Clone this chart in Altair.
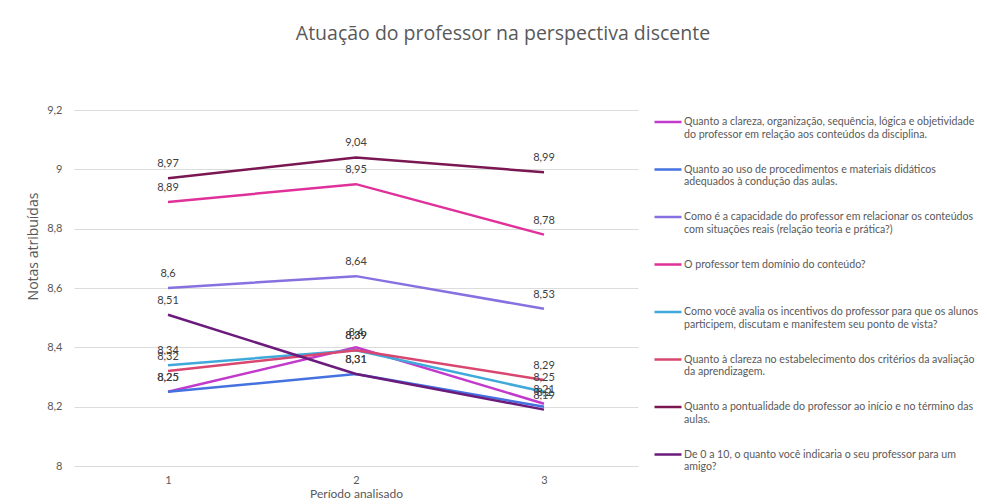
import altair as alt
import pandas as pd

periods = [1, 2, 3]
series_names = [
    "Quanto a clareza, organização, sequência, lógica e objetividade\ndo professor em relação aos conteúdos da disciplina.",
    "Quanto ao uso de procedimentos e materiais didáticos\nadequados à condução das aulas.",
    "Como é a capacidade do professor em relacionar os conteúdos\ncom situações reais (relação teoria e prática?)",
    "O professor tem domínio do conteúdo?\n ",
    "Como você avalia os incentivos do professor para que os alunos\nparticipem, discutam e manifestem seu ponto de vista?",
    "Quanto à clareza no estabelecimento dos critérios da avaliação\nda aprendizagem.",
    "Quanto a pontualidade do professor ao início e no término das\naulas.",
    "De 0 a 10, o quanto você indicaria o seu professor para um\namigo?",
]
s_clareza = [8.25, 8.40, 8.21]
s_procedimentos = [8.25, 8.31, 8.20]
s_capacidade = [8.60, 8.64, 8.53]
s_dominio = [8.89, 8.95, 8.78]
s_incentivos = [8.34, 8.39, 8.25]
s_criterios = [8.32, 8.39, 8.29]
s_pontualidade = [8.97, 9.04, 8.99]
s_indicaria = [8.51, 8.31, 8.19]
colors = ["#C23ACB", "#4472E0", "#8770E0", "#E0309A", "#3FA9DA", "#D9466F", "#7A1652", "#6B1B7C"]

all_series = [s_clareza, s_procedimentos, s_capacidade, s_dominio,
              s_incentivos, s_criterios, s_pontualidade, s_indicaria]
rows = []
for name, vals in zip(series_names, all_series):
    for p, v in zip(periods, vals):
        rows.append({"serie": name, "periodo": p, "nota": v})
df = pd.DataFrame(rows)

x = alt.X("periodo:O", scale=alt.Scale(type="point", padding=0.5),
          axis=alt.Axis(title="Período analisado", labelAngle=0, domain=False, ticks=False,
                        grid=False, labelPadding=8, labelFontSize=11, labelColor="#595959",
                        titleFontSize=12, titleColor="#595959", titlePadding=3,
                        titleFont="Lato", titleFontWeight="normal", labelFont="Lato"))
y = alt.Y("nota:Q", scale=alt.Scale(domain=[8, 9.2], nice=False, zero=False),
          axis=alt.Axis(title="Notas atribuídas", values=[8, 8.2, 8.4, 8.6, 8.8, 9, 9.2],
                        labelExpr="replace(format(datum.value, '.2~f'), '.', ',')",
                        domain=False, ticks=False, labelPadding=12, labelFontSize=11,
                        labelColor="#595959", gridColor="#DCDCDC", titleFontSize=14,
                        titleColor="#595959", titleFont="Open Sans", titleFontWeight="normal",
                        titleX=-41, titleY=136, titleAngle=270, titleAlign="center",
                        titleBaseline="middle", labelFont="Lato"))
color = alt.Color("serie:N", scale=alt.Scale(domain=series_names, range=colors),
                  legend=alt.Legend(title=None, orient="none", legendX=579, legendY=-3,
                                    symbolType="stroke", symbolSize=729, symbolStrokeWidth=2.5,
                                    labelExpr="split(datum.label, '\\n')",
                                    labelFont="Lato", labelFontSize=10.6, labelColor="#595959",
                                    labelLimit=400, rowPadding=13.5, labelOffset=1,
                                    labelBaseline="middle", symbolOffset=0, columns=1))

lines = alt.Chart(df).mark_line(strokeWidth=2.5).encode(x=x, y=y, color=color)
labels = alt.Chart(df).mark_text(dy=-14, fontSize=11, color="#404040", font="Lato").encode(
    x=x, y=y,
    text=alt.Text("lbl:N"),
).transform_calculate(lbl="replace(format(datum.nota, '.2~f'), '.', ',')")

chart = alt.layer(lines, labels).properties(
    width=564, height=356,
    background="white",
    title=alt.TitleParams("Atuação do professor na perspectiva discente", fontSize=19.5,
                          font="Open Sans", fontWeight="normal", color="#595959",
                          anchor="middle", dx=147, offset=60),
    autosize=alt.AutoSizeParams(type="none"),
    padding={"left": 66, "top": 102, "right": 341, "bottom": 38},
).configure_view(stroke=None, strokeWidth=0)

chart.save("out.html", embed_options={"renderer": "svg", "actions": False})
